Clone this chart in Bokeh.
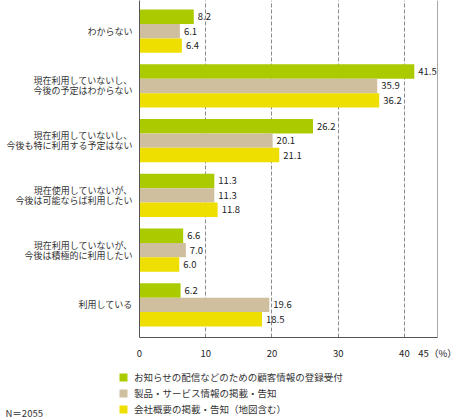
import numpy as np
from bokeh.plotting import figure
from bokeh.layouts import column, row
from bokeh.models import Range1d, FixedTicker, Span, Label, Legend, LegendItem
from bokeh.core.properties import value
from bokeh.embed import file_html
from bokeh.resources import INLINE

categories = [
    "わからない",
    "現在利用していないし、\n今後の予定はわからない",
    "現在利用していないし、\n今後も特に利用する予定はない",
    "現在使用していないが、\n今後は可能ならば利用したい",
    "現在利用していないが、\n今後は積極的に利用したい",
    "利用している",
]
series_names = [
    "お知らせの配信などのための顧客情報の登録受付",
    "製品・サービス情報の掲載・告知",
    "会社概要の掲載・告知（地図含む）",
]
registration = [8.2, 41.5, 26.2, 11.3, 6.6, 6.2]
product_info = [6.1, 35.9, 20.1, 11.3, 7.0, 19.6]
company_info = [6.4, 36.2, 21.1, 11.8, 6.0, 18.5]
colors = ["#abcb00", "#d0bf9e", "#eedf00"]
x_ticks = [0, 10, 20, 30, 40, 45]
sample_note = "N＝2055"

FONT = "Noto Sans CJK JP"
n = len(categories)
ypos = np.arange(n)[::-1].astype(float)
bar_h = 0.264

p = figure(
    width=460, height=362,
    x_range=Range1d(0, 45), y_range=Range1d(-0.596, n - 1 + 0.56),
    output_backend="svg", toolbar_location=None,
    min_border_left=139, min_border_right=23, min_border_top=0, min_border_bottom=21,
)
p.outline_line_color = None

for k, (vals, col) in enumerate(zip([registration, product_info, company_info], colors)):
    ys = ypos + (1 - k) * bar_h
    p.hbar(y=ys, left=0, right=vals, height=bar_h, fill_color=col, line_color=None)
    p.text(x=vals, y=ys, text=["%.1f" % v for v in vals], x_offset=4,
           text_baseline="middle", text_align="left", text_font=value(FONT),
           text_font_size="9.5px", text_color="#222222")

# y axis carries the category names
p.ygrid.visible = False
p.yaxis.ticker = FixedTicker(ticks=list(ypos))
p.yaxis.major_label_overrides = {float(y): c for y, c in zip(ypos, categories)}
p.yaxis.major_tick_in = 0
p.yaxis.major_tick_out = 0
p.yaxis.minor_tick_in = 0
p.yaxis.minor_tick_out = 0
p.yaxis.axis_line_color = "#555555"
p.yaxis.major_label_standoff = 7
p.yaxis.major_label_text_font = FONT
p.yaxis.major_label_text_font_size = "9px"
p.yaxis.major_label_text_line_height = 0.77
p.yaxis.major_label_text_color = "#333333"

p.xgrid.ticker = FixedTicker(ticks=[10, 20, 30, 40])
p.xgrid.grid_line_color = "#8a8a8a"
p.xgrid.grid_line_dash = "4 2"
p.xaxis.ticker = FixedTicker(ticks=x_ticks)
p.xaxis.major_label_overrides = {45: "45（%）"}
p.xaxis.major_tick_in = 0
p.xaxis.major_tick_out = 0
p.xaxis.minor_tick_in = 0
p.xaxis.minor_tick_out = 0
p.xaxis.axis_line_color = "#555555"
p.xaxis.major_label_standoff = 8
p.xaxis.major_label_text_font = FONT
p.xaxis.major_label_text_font_size = "9.5px"
p.xaxis.major_label_text_color = "#222222"

p.add_layout(Span(location=45, dimension="height", line_color="#555555", line_width=1))

# legend strip underneath
leg = figure(
    width=460, height=57, x_range=Range1d(0, 1), y_range=Range1d(0, 1),
    output_backend="svg", toolbar_location=None,
    x_axis_location=None, y_axis_location=None,
    min_border_left=0, min_border_right=0, min_border_top=0, min_border_bottom=0,
)
leg.outline_line_color = None
leg.grid.visible = False
swatches = [leg.hbar(y=[0], left=[0], right=[0], height=0, fill_color=c, line_color=None)
            for c in colors]

legend = Legend(
    items=[LegendItem(label=s, renderers=[r]) for s, r in zip(series_names, swatches)],
    location=(118, 3), orientation="vertical",
    glyph_width=10, glyph_height=10, label_height=14, spacing=2, label_standoff=6,
    padding=0, margin=0, border_line_color=None, background_fill_alpha=0,
    label_text_font=FONT, label_text_font_size="9.5px", label_text_color="#333333",
)
leg.add_layout(legend)
leg.add_layout(Label(x=5, x_units="screen", y=7, y_units="screen", text=sample_note,
                     text_baseline="middle", text_font=FONT,
                     text_font_size="9.5px", text_color="#333333"))

layout = column(p, row(leg))
open("out.html", "w").write(file_html(layout, INLINE))
